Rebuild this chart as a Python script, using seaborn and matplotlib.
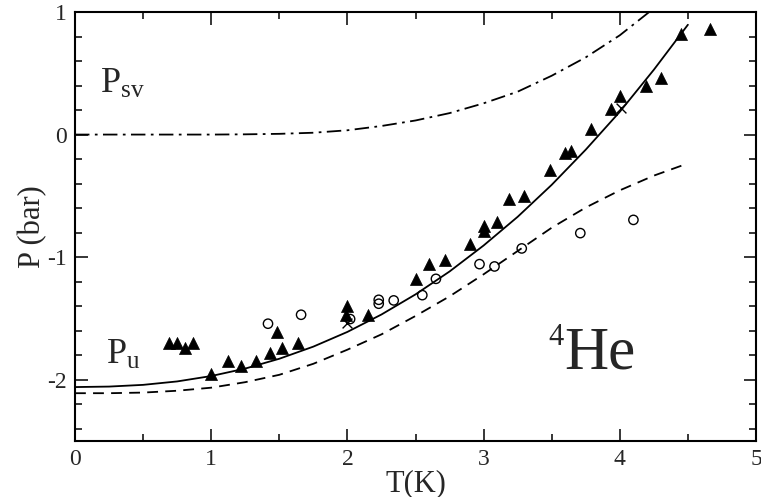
import numpy as np
import pandas as pd
import matplotlib
matplotlib.use("Agg")
import matplotlib.pyplot as plt
import seaborn as sns

# ---------------- data ----------------
# filled triangles
tri_T = [0.69, 0.75, 0.81, 0.87, 1.00, 1.12, 1.22, 1.33, 1.43, 1.485, 1.52, 1.64,
         1.99, 2.00, 2.15, 2.50, 2.60, 2.72, 2.90, 3.00, 3.00, 3.10, 3.19, 3.30,
         3.49, 3.60, 3.64, 3.79, 3.935, 4.00, 4.19, 4.30, 4.45, 4.66]
tri_P = [-1.70, -1.70, -1.74, -1.70, -1.95, -1.845, -1.886, -1.845, -1.78, -1.61, -1.74, -1.70,
         -1.47, -1.40, -1.47, -1.18, -1.06, -1.02, -0.894, -0.785, -0.742, -0.717, -0.527, -0.50,
         -0.293, -0.15, -0.13, 0.043, 0.207, 0.318, 0.40, 0.465, 0.818, 0.859]
# open circles
circ_T = [1.417, 1.66, 2.02, 2.23, 2.23, 2.34, 2.55, 2.65, 2.97, 3.08, 3.28, 3.71, 4.10]
circ_P = [-1.543, -1.47, -1.505, -1.348, -1.38, -1.353, -1.31, -1.177, -1.057, -1.076,
          -0.929, -0.804, -0.696]
# crosses
cross_T = [2.00, 4.01]
cross_P = [-1.54, 0.217]

# curves
curve_T = [0.0, 0.25, 0.5, 0.75, 1.0, 1.25, 1.5, 1.75, 2.0, 2.25, 2.5, 2.75,
           3.0, 3.25, 3.5, 3.75, 4.0, 4.25, 4.5]
pu_solid = [-2.06, -2.056, -2.042, -2.014, -1.97, -1.909, -1.829, -1.73, -1.61, -1.468,
            -1.304, -1.117, -0.905, -0.671, -0.41, -0.123, 0.186, 0.529, 0.896]
pu_dashed = [-2.11, -2.11, -2.105, -2.09, -2.065, -2.02, -1.96, -1.87, -1.755, -1.63,
             -1.48, -1.32, -1.14, -0.95, -0.76, -0.595, -0.455, -0.335, -0.235]
psv_T = [0.0, 0.5, 1.0, 1.25, 1.5, 1.75, 2.0, 2.25, 2.5, 2.75, 3.0, 3.25, 3.5, 3.75, 4.0, 4.25]
psv = [0.0, 0.0, 0.0, 0.002, 0.006, 0.015, 0.035, 0.07, 0.115, 0.175, 0.255, 0.35,
       0.48, 0.63, 0.81, 1.03]

x_ticks = [0, 1, 2, 3, 4, 5]
y_ticks = [-2, -1, 0, 1]

# ---------------- style ----------------
sns.set_style("ticks")
plt.rcParams["font.family"] = ["Liberation Serif", "DejaVu Serif"]
plt.rcParams["mathtext.fontset"] = "custom"
plt.rcParams["mathtext.rm"] = "Liberation Serif"
plt.rcParams["mathtext.it"] = "Liberation Serif"
plt.rcParams["axes.unicode_minus"] = False

fig = plt.figure(figsize=(7.61, 4.97), dpi=100)
ax = fig.add_axes([75 / 761, 1 - 441 / 497, (756 - 75) / 761, (441 - 12) / 497])

k = "black"
sns.lineplot(x=curve_T, y=pu_solid, ax=ax, color=k, lw=1.3, sort=False)
sns.lineplot(x=curve_T, y=pu_dashed, ax=ax, color=k, lw=1.3, sort=False,
             linestyle=(0, (6, 4)))
l = sns.lineplot(x=psv_T, y=psv, ax=ax, color=k, lw=1.3, sort=False)
l.lines[-1].set_dashes([8, 3, 1.5, 3])

sns.scatterplot(x=tri_T, y=tri_P, ax=ax, marker="^", s=75, color=k, edgecolor=k, linewidth=0.5)
sns.scatterplot(x=circ_T, y=circ_P, ax=ax, marker="o", s=45, facecolor="none",
                edgecolor=k, linewidth=1.0)
sns.scatterplot(x=cross_T, y=cross_P, ax=ax, marker="x", s=50, color=k, linewidth=1.0)

ax.set_xlim(0, 5)
ax.set_ylim(-2.5, 1)
ax.set_xticks(x_ticks)
ax.set_yticks(y_ticks)
ax.set_xticks(np.arange(0, 5.01, 0.5), minor=True)
ax.set_yticks(np.arange(-2.4, 1.01, 0.2), minor=True)
ax.tick_params(which="both", direction="in", top=True, right=True, width=1.3,
               labelsize=17, pad=6)
ax.tick_params(which="major", length=9)
ax.tick_params(which="minor", length=5)
for s in ax.spines.values():
    s.set_linewidth(1.5)
    s.set_color(k)

ax.set_xlabel("T(K)", fontsize=22, labelpad=-1)
ax.set_ylabel("P (bar)", fontsize=22, labelpad=0)

ax.text(0.18, 0.34, r"$\mathrm{P_{sv}}$", fontsize=26, ha="left", va="baseline")
ax.text(0.23, -1.874, r"$\mathrm{P_{u}}$", fontsize=26, ha="left", va="baseline")
ax.text(3.59, -1.91, "He", fontsize=44, ha="left", va="baseline")
ax.text(3.59, -1.54, "4", fontsize=22, ha="right", va="top")

fig.savefig("out.png", dpi=100)
